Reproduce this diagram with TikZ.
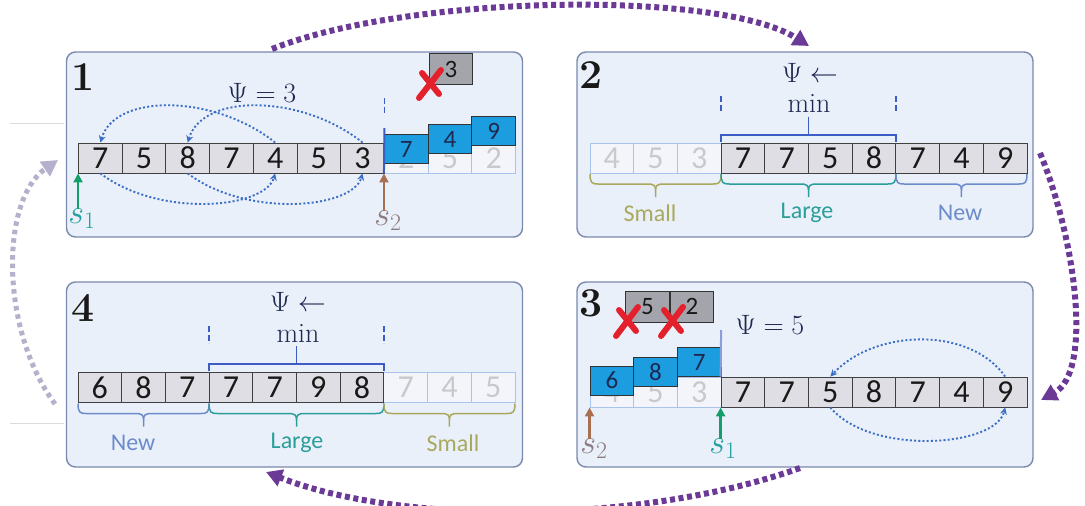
\RequirePackage{fix-cm}
\documentclass[tikz,border=0pt]{standalone}
\usepackage{fontspec}
\newfontfamily\carl{Carlito}
\usetikzlibrary{arrows.meta,calc}

\definecolor{panelfill}{HTML}{EAF0FA}
\definecolor{panelline}{HTML}{7A8AAE}
\definecolor{cellfill}{HTML}{DEDEE4}
\definecolor{fadefill}{HTML}{F3F5FA}
\definecolor{fadeline}{HTML}{A9C4EC}
\definecolor{fadetext}{HTML}{C9C9CC}
\definecolor{bluebox}{HTML}{1C9DE0}
\definecolor{grbox}{HTML}{A4A4AC}
\definecolor{loopblue}{HTML}{3B6FC6}
\definecolor{minblue}{HTML}{3D5CC4}
\definecolor{navy}{HTML}{1E2850}
\definecolor{cyclepurple}{HTML}{6A3A96}
\definecolor{cyclefade}{HTML}{B6B0CC}
\definecolor{smallc}{HTML}{A9A95E}
\definecolor{largec}{HTML}{2A9E9A}
\definecolor{newc}{HTML}{6B8BCB}
\definecolor{sone}{HTML}{149E6A}
\definecolor{sonetext}{HTML}{23A0A0}
\definecolor{stwo}{HTML}{A8704E}
\definecolor{stwotext}{HTML}{8C7B80}
\definecolor{crossred}{HTML}{E4202C}

\tikzset{
  panel/.style={draw=panelline, line width=1.4pt, fill=panelfill, rounded corners=9pt,
    minimum width=456pt, minimum height=185pt, inner sep=0pt},
  cell/.style={draw=black!75, line width=0.9pt, fill=cellfill, minimum width=43.7pt,
    minimum height=30pt, inner sep=0pt, font=\carl\fontsize{32}{32}\selectfont, text=black!90},
  fadecell/.style={cell, draw=fadeline, fill=fadefill, text=fadetext},
  bluecell/.style={cell, fill=bluebox, draw=black!80, minimum height=29pt,
    font=\carl\fontsize{25}{25}\selectfont, text=navy},
  graycell/.style={cell, fill=grbox, draw=black!80, minimum height=31pt,
    font=\carl\fontsize{25}{25}\selectfont},
  num/.style={font=\bfseries\fontsize{41}{41}\selectfont, text=black!90},
  psi/.style={font=\fontsize{28}{28}\selectfont, text=navy},
  stext/.style={font=\fontsize{34}{34}\selectfont, inner sep=0pt},
  grp/.style={font=\carl\fontsize{24}{24}\selectfont},
  looparrow/.style={loopblue, line width=1.9pt, dash pattern=on 2pt off 2.2pt,
    -{Stealth[length=7pt,width=7pt]}},
  cyclearrow/.style={cyclepurple, line width=6pt, dash pattern=on 5pt off 3.6pt,
    -{Triangle[length=16pt,width=17pt]}},
  ptr/.style={line width=2.6pt, -{Triangle[length=9pt,width=9pt]}},
  xmark/.style={crossred, line width=6pt, line cap=round},
  septick/.style={minblue, line width=1.6pt, dash pattern=on 6pt off 2.5pt},
  minbar/.style={minblue, line width=1.6pt},
}

% curly group brace under a row: colour, left x, right x, top y
\newcommand\grpbrace[4]{%
  \draw[#1, line width=1.5pt]
    (#2,#4) .. controls (#2,{#4+9}) and ({#2+2},{#4+10}) .. ({#2+8},{#4+10})
    -- ({(#2+#3)/2-5},{#4+10})
    .. controls ({(#2+#3)/2-2},{#4+10}) and ({(#2+#3)/2},{#4+12}) .. ({(#2+#3)/2},{#4+16})
    -- ({(#2+#3)/2},{#4+23});
  \draw[#1, line width=1.5pt]
    (#3,#4) .. controls (#3,{#4+9}) and ({#3-2},{#4+10}) .. ({#3-8},{#4+10})
    -- ({(#2+#3)/2+5},{#4+10})
    .. controls ({(#2+#3)/2+2},{#4+10}) and ({(#2+#3)/2},{#4+12}) .. ({(#2+#3)/2},{#4+16});
}
% bracket that marks the window whose minimum is taken: left x, right x, y
\newcommand\minbracket[3]{%
  \draw[minbar] (#1,{#3+7}) -- (#1,#3) -- (#2,#3) -- (#2,{#3+7});
  \draw[minbar] ({(#1+#2)/2},#3) -- ({(#1+#2)/2},{#3-18});
}

\begin{document}
\begin{tikzpicture}[x=1pt,y=-1pt]
\useasboundingbox (0,0) rectangle (1085,506);
\clip (0,0) rectangle (1085,506);
\fill[white] (0,0) rectangle (1085,506);

% faint guide lines on the left
\draw[black!14, line width=1pt] (10,123) -- (64,123);
\draw[black!14, line width=1pt] (10,423) -- (64,423);

% ---------- panels ----------
\node[panel] (P1) at (294.5,144.5) {};
\node[panel] (P2) at (805,144.5) {};
\node[panel] (P4) at (294.5,374.5) {};
\node[panel] (P3) at (805,374.5) {};

\node[num] (n1) at (83,77) {1};
\node[num] (n2) at (591,75) {2};
\node[num] (n4) at (83,308) {4};
\node[num] (n3) at (591,303) {3};

% ---------- panel 1 ----------
\foreach \v [count=\i from 7] in {2,5,2}
  \node[fadecell] (a\i) at ({78.5+21.85+43.7*\i},158) {\v};
\foreach \v [count=\i from 0] in {7,5,8,7,4,5,3}
  \node[cell] (a\i) at ({78.5+21.85+43.7*\i},158) {\v};
\node[bluecell] (a7b) at ($(a7)+(0,-9)$) {7};
\node[bluecell] (a8b) at ($(a8)+(0,-19)$) {4};
\node[bluecell] (a9b) at ($(a9)+(0,-27)$) {9};
\node[graycell] (g1) at (451,69) {3};
\draw[xmark] (419,98) -- (441,70);
\draw[xmark] (422,73) -- (439,94);
\draw[septick] (384.4,98) -- (384.4,114);
\draw[minblue, line width=2pt] (384.4,128) -- (a7.south west);
\node[psi] (psi1) at (262,93) {$\Psi = 3$};

\draw[looparrow] (a4.north) .. controls +(-60,-48) and +(15,-50) .. (a0.north);
\draw[looparrow] (a6.north) .. controls +(-60,-48) and +(15,-50) .. (a2.north);
\draw[looparrow] (a0.south) .. controls +(60,45) and +(-10,35) .. (a4.south);
\draw[looparrow] (a2.south) .. controls +(60,45) and +(-10,35) .. (a6.south);

\node[stext, text=sonetext] (s1a) at (82,219) {$s_1$};
\draw[ptr, sone] (s1a.north -| a0.south west) -- (a0.south west);
\node[stext, text=stwotext] (s2a) at (388,221) {$s_2$};
\draw[ptr, stwo] (s2a.north -| a7.south west) -- (a7.south west);

% ---------- panel 2 ----------
\foreach \v [count=\i from 0] in {4,5,3}
  \node[fadecell] (b\i) at ({590+21.85+43.7*\i},158) {\v};
\foreach \v [count=\i from 3] in {7,7,5,8,7,4,9}
  \node[cell] (b\i) at ({590+21.85+43.7*\i},158) {\v};
\node[psi] (psi2) at (810,73) {$\Psi \leftarrow$};
\node[psi] (min2) at (809,103) {$\min$};
\draw[septick] (721.1,96) -- (721.1,113);
\draw[septick] (895.9,96) -- (895.9,113);
\minbracket{721.1}{895.9}{135}
\grpbrace{smallc}{590}{721.1}{174}
\grpbrace{largec}{721.1}{895.9}{174}
\grpbrace{newc}{895.9}{1027}{174}
\node[grp, text=smallc] (sm2) at (650,213) {Small};
\node[grp, text=largec] (lg2) at (807,213) {Large};
\node[grp, text=newc] (nw2) at (960,213) {New};

% ---------- panel 4 ----------
\foreach \v [count=\i from 7] in {7,4,5}
  \node[fadecell] (d\i) at ({78+21.85+43.7*\i},387.5) {\v};
\foreach \v [count=\i from 0] in {6,8,7,7,7,9,8}
  \node[cell] (d\i) at ({78+21.85+43.7*\i},387.5) {\v};
\node[psi] (psi4) at (298,302) {$\Psi \leftarrow$};
\node[psi] (min4) at (298,333) {$\min$};
\draw[septick] (209.1,326) -- (209.1,343);
\draw[septick] (383.9,326) -- (383.9,343);
\minbracket{209.1}{383.9}{364}
\grpbrace{newc}{78}{209.1}{403.5}
\grpbrace{largec}{209.1}{383.9}{403.5}
\grpbrace{smallc}{383.9}{515}{403.5}
\node[grp, text=newc] (nw4) at (133,443) {New};
\node[grp, text=largec] (lg4) at (297,443) {Large};
\node[grp, text=smallc] (sm4) at (453,443) {Small};

% ---------- panel 3 ----------
\foreach \v [count=\i from 0] in {4,5,3}
  \node[fadecell] (c\i) at ({590+21.85+43.7*\i},392) {\v};
\foreach \v [count=\i from 3] in {7,7,5,8,7,4,9}
  \node[cell] (c\i) at ({590+21.85+43.7*\i},392) {\v};
\node[bluecell] (c0b) at ($(c0)+(0,-11.5)$) {6};
\node[bluecell] (c1b) at ($(c1)+(0,-20)$) {8};
\node[bluecell] (c2b) at ($(c2)+(0,-30)$) {7};
\draw[minblue!60, line width=2pt] (721.1,330) -- (c3.north west);
\node[graycell] (g2) at (647.5,306.5) {5};
\node[graycell] (g3) at (692,306.5) {2};
\draw[xmark] (616,336) -- (638,307);
\draw[xmark] (619,310) -- (636,331);
\draw[xmark] (661,336) -- (683,307);
\draw[xmark] (664,310) -- (681,331);
\node[psi] (psi3) at (770,325) {$\Psi = 5$};

\draw[looparrow] (c9.north) .. controls +(-35,-50) and +(45,-48) .. (c5.north);
\draw[looparrow] (c5.south) .. controls +(40,48) and +(-10,40) .. (c9.south);

\node[stext, text=stwotext] (s2c) at (594,449) {$s_2$};
\draw[ptr, stwo] (s2c.north -| c0.south west) -- (c0.south west);
\node[stext, text=sonetext] (s1c) at (723,449) {$s_1$};
\draw[ptr, sone] (s1c.north -| c3.south west) -- (c3.south west);

% ---------- cycle between the stages ----------
\coordinate (u1) at (272,49);
\coordinate (u2) at (809,46);
\coordinate (r1) at (1040,153);
\coordinate (r2) at (1041,400);
\coordinate (d1) at (800,468);
\coordinate (d2) at (266,472);
\coordinate (l1) at (55,404);
\coordinate (l2) at (58,160);
\draw[cyclearrow] (u1) .. controls (410,-6) and (720,-10) .. (u2);
\draw[cyclearrow] (r1) .. controls (1076,240) and (1093,372) .. (r2);
\draw[cyclearrow] (d1) .. controls (640,525) and (400,525) .. (d2);
\draw[cyclearrow, cyclefade, line width=5pt, dash pattern=on 4.5pt off 4pt]
  (l1) .. controls (0,330) and (0,200) .. (l2);
\end{tikzpicture}
\end{document}
